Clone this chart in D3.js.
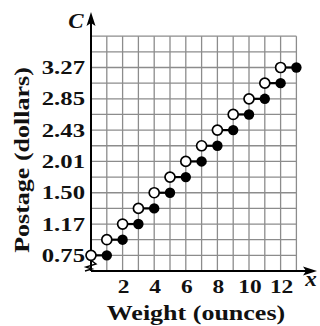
<!DOCTYPE html>
<html>
<head>
<meta charset="utf-8">
<script src="https://cdn.jsdelivr.net/npm/d3@7"></script>
<style>
  html, body { margin: 0; padding: 0; background: #fff; }
  svg { display: block; }
  text { font-family: "Liberation Serif", "DejaVu Serif", serif; font-weight: bold; fill: #111; }
</style>
</head>
<body>
<svg id="chart" width="320" height="326"></svg>
<script>
// ---- data ----
const weightStart = [0, 1, 2, 3, 4, 5, 6, 7, 8, 9, 10, 11, 12];
const weightEnd   = [1, 2, 3, 4, 5, 6, 7, 8, 9, 10, 11, 12, 13];
const postage     = [0.75, 0.96, 1.17, 1.38, 1.59, 1.80, 2.01, 2.22, 2.43, 2.64, 2.85, 3.06, 3.27];
const xTickValues = [2, 4, 6, 8, 10, 12];
const yTickValues = [0.75, 1.17, 1.59, 2.01, 2.43, 2.85, 3.27];
const yTickLabels = ["0.75", "1.17", "1.50", "2.01", "2.43", "2.85", "3.27"];
const xTitle = "Weight (ounces)";
const yTitle = "Postage (dollars)";

// ---- layout ----
const svg = d3.select("#chart");
const plotLeft = 91, plotRight = 296.4, plotBottom = 271, plotTop = 36.2;
const x = d3.scaleLinear().domain([0, 13]).range([plotLeft, plotRight]);
const yMin = 0.54, yStep = 0.21, nRows = 15;
const y = d3.scaleLinear().domain([yMin, yMin + yStep * nRows]).range([plotBottom, plotTop]);

const STRETCH = 1.3;
function stretch(sel, f) {
  sel.each(function() {
    const w = this.getComputedTextLength();
    d3.select(this).attr("textLength", w * f).attr("lengthAdjust", "spacingAndGlyphs");
  });
}

// grid
const grid = svg.append("g").attr("stroke", "#8c8c8c").attr("stroke-width", 1.3);
grid.selectAll("line.v").data(d3.range(0, 14)).join("line")
  .attr("x1", d => x(d)).attr("x2", d => x(d))
  .attr("y1", y(yMin)).attr("y2", y(yMin + yStep * nRows));
grid.selectAll("line.h").data(d3.range(0, nRows + 1)).join("line")
  .attr("y1", d => y(yMin + yStep * d)).attr("y2", d => y(yMin + yStep * d))
  .attr("x1", x(0)).attr("x2", x(13));

// axes
const axes = svg.append("g").attr("stroke", "#000").attr("stroke-width", 2).attr("fill", "none");
axes.append("line").attr("x1", plotLeft).attr("x2", 310).attr("y1", plotBottom).attr("y2", plotBottom);
axes.append("line").attr("x1", plotLeft).attr("x2", plotLeft).attr("y1", plotBottom).attr("y2", 22);
// arrowheads
svg.append("path").attr("d", `M317,${plotBottom} L303,${plotBottom - 4.5} L306,${plotBottom} L303,${plotBottom + 4.5} Z`).attr("fill", "#000");
svg.append("path").attr("d", `M${plotLeft},12 L${plotLeft - 4.5},26 L${plotLeft},23 L${plotLeft + 4.5},26 Z`).attr("fill", "#000");
// axis break zigzag
svg.append("path").attr("d", "M92,261 L96,264 L86,267 L92,269 L85,271")
  .attr("fill", "none").attr("stroke", "#000").attr("stroke-width", 1.4);

// tick labels
const xt = svg.append("g").selectAll("text").data(xTickValues).join("text")
  .attr("x", d => x(d) + 1).attr("y", 293).attr("text-anchor", "middle")
  .attr("font-size", 18).text(d => d);
stretch(xt, STRETCH);

const yt = svg.append("g").selectAll("text").data(yTickValues).join("text")
  .attr("x", 85).attr("y", d => y(d) + 6.5).attr("text-anchor", "end")
  .attr("font-size", 19).text((d, i) => yTickLabels[i]);
stretch(yt, STRETCH);

// titles
const xtl = svg.append("text").attr("x", 196).attr("y", 320).attr("text-anchor", "middle")
  .attr("font-size", 20).text(xTitle);
stretch(xtl, STRETCH);
const ytl = svg.append("text").attr("transform", "translate(29,160) rotate(-90)")
  .attr("text-anchor", "middle").attr("font-size", 20).text(yTitle);
stretch(ytl, STRETCH);

// axis letters
const cl = svg.append("text").attr("x", 76).attr("y", 28).attr("text-anchor", "middle")
  .attr("font-size", 20).attr("font-style", "italic").text("C");
stretch(cl, 1.15);
const xl = svg.append("text").attr("x", 311).attr("y", 286).attr("text-anchor", "middle")
  .attr("font-size", 20).attr("font-style", "italic").text("x");
stretch(xl, 1.15);

// steps
const steps = svg.append("g");
steps.selectAll("line").data(postage).join("line")
  .attr("x1", (d, i) => x(weightStart[i])).attr("x2", (d, i) => x(weightEnd[i]))
  .attr("y1", d => y(d)).attr("y2", d => y(d))
  .attr("stroke", "#000").attr("stroke-width", 2.2);
steps.selectAll("circle.open").data(postage).join("circle").attr("class", "open")
  .attr("cx", (d, i) => x(weightStart[i])).attr("cy", d => y(d)).attr("r", 5)
  .attr("fill", "#fff").attr("stroke", "#000").attr("stroke-width", 1.7);
steps.selectAll("circle.closed").data(postage).join("circle").attr("class", "closed")
  .attr("cx", (d, i) => x(weightEnd[i])).attr("cy", d => y(d)).attr("r", 5.2)
  .attr("fill", "#000");
</script>
</body>
</html>
